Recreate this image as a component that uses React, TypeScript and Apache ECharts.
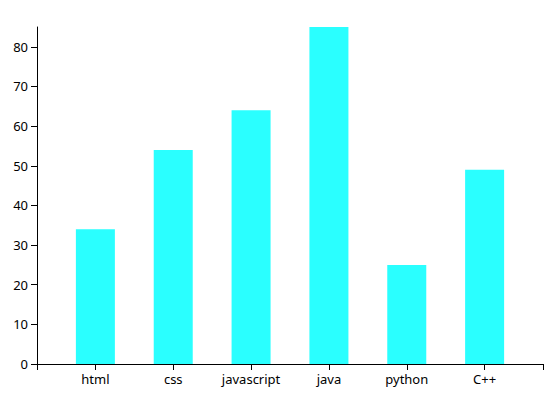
import React, { useEffect, useRef } from "react";
import * as echarts from "echarts";

const categories = ["html", "css", "javascript", "java", "python", "C++"];
const values = [34, 54, 64, 85, 25, 49];
const yMax = 85;
const yInterval = 10;

export default function App() {
  const ref = useRef<HTMLDivElement>(null);
  useEffect(() => {
    if (!ref.current) return;
    const chart = echarts.init(ref.current, undefined, { renderer: "svg" });
    const idx = categories.map((_, i) => i);
    const xMin = -0.75;
    const xMax = categories.length - 0.25;
    const font = { fontFamily: "Noto Sans", fontSize: 13, color: "#000" };
    chart.setOption({
      animation: false,
      grid: { left: 29, right: 15, top: 19, bottom: 29, containLabel: false },
      xAxis: {
        type: "value",
        min: xMin,
        max: xMax,
        splitLine: { show: false },
        axisLine: { show: true, onZero: false, lineStyle: { color: "#000", width: 1 } },
        axisTick: {
          show: true,
          length: 6,
          lineStyle: { color: "#000", width: 1 },
          customValues: [xMin, ...idx, xMax],
        },
        axisLabel: {
          ...font,
          margin: 8,
          customValues: idx,
          formatter: (v: number) => categories[Math.round(v)] ?? "",
        },
      },
      yAxis: {
        type: "value",
        min: 0,
        max: yMax,
        interval: yInterval,
        splitLine: { show: false },
        axisLine: { show: true, onZero: false, lineStyle: { color: "#000", width: 1 } },
        axisTick: {
          show: true,
          length: 6,
          lineStyle: { color: "#000", width: 1 },
        },
        axisLabel: { ...font, margin: 9, showMaxLabel: false },
      },
      series: [
        {
          type: "bar",
          barWidth: 39,
          itemStyle: { color: "#2affff" },
          data: values.map((v, i) => [i, v]),
        },
      ],
    });
    return () => chart.dispose();
  }, []);
  return <div ref={ref} style={{ width: 550, height: 385 }} />;
}
